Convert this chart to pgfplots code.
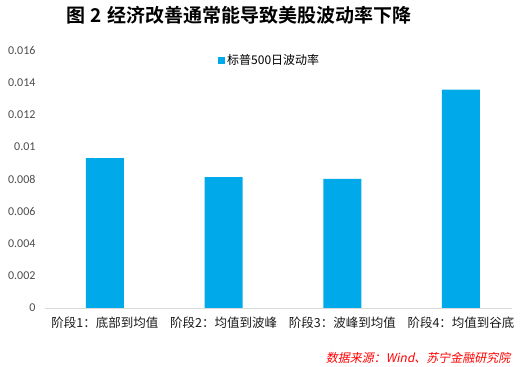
\documentclass[border=0pt]{standalone}
\usepackage{fontspec}
\usepackage{pgfplots}
\pgfplotsset{compat=1.18}
\setmainfont{Carlito}
\newfontfamily\cjk[BoldFont={Noto Sans CJK SC Bold}]{Noto Sans CJK SC}
\newfontfamily\cjkit[FakeSlant=0.2]{Noto Sans CJK SC}
\definecolor{barblue}{HTML}{00A9EA}
\begin{document}
\begin{tikzpicture}[x=1pt,y=1pt]
\path[use as bounding box] (0,0) rectangle (523,367);
\begin{axis}[
  at={(45pt,59pt)}, anchor=south west, scale only axis,
  width=467pt, height=258pt,
  xmin=-0.505, xmax=3.43, ymin=0, ymax=0.016,
  axis x line*=bottom, axis y line*=left,
  x axis line style={draw=black!15,-},
  y axis line style={draw=none},
  major tick length=0pt, tick style={draw=none},
  ytick={0,0.002,0.004,0.006,0.008,0.01,0.012,0.014,0.016},
  yticklabels={0,0.002,0.004,0.006,0.008,0.01,0.012,0.014,0.016},
  scaled y ticks=false,
  yticklabel style={font=\fontsize{12}{12}\selectfont, text=black!70, xshift=-6pt},
  xtick={0,1,2,3},
  xticklabels={阶段1：底部到均值,阶段2：均值到波峰,阶段3：波峰到均值,阶段4：均值到谷底},
  xticklabel style={font=\cjk\fontsize{12.5}{13}\selectfont, text=black!90, yshift=-5pt},
  ybar, bar width=38pt,
  legend style={at={(0.364,0.961)}, anchor=west, draw=none, fill=none,
    font=\cjk\fontsize{12}{12}\selectfont},
  legend image code/.code={\draw[#1,draw=none] (0pt,-3.5pt) rectangle (7pt,3.5pt);},
]
\addplot[fill=barblue, draw=none] coordinates {(0,0.0093) (1,0.00812) (2,0.0080) (3,0.01354)};
\addlegendentry{标普500日波动率}
\end{axis}
\node[font=\cjk\bfseries\fontsize{19}{19}\selectfont] at (239,352) {图\hspace{5pt}2\hspace{5pt}经济改善通常能导致美股波动率下降};
\node[anchor=east, text=red, font=\cjkit\fontsize{12}{12}\selectfont] at (514,9) {数据来源：Wind、苏宁金融研究院};
\end{tikzpicture}
\end{document}
